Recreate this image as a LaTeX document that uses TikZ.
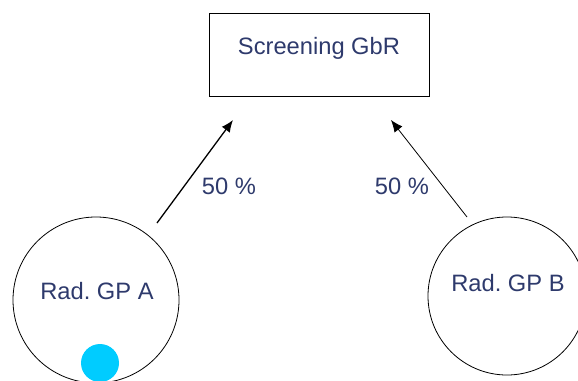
\documentclass[tikz,border=0pt]{standalone}
\usepackage{fontspec}
\setmainfont{Liberation Sans}
\usetikzlibrary{arrows.meta}
\definecolor{txtnavy}{HTML}{2E3A6C}
\definecolor{dotcyan}{HTML}{00CCFF}
\frenchspacing
\begin{document}
\begin{tikzpicture}[x=1pt,y=-1pt,
  lbl/.style={text=txtnavy,font=\fontsize{23.7}{28}\selectfont,inner sep=0pt},
  gpcircle/.style={draw=black,line width=0.8pt,circle,inner sep=0pt},
  conn/.style={-{Latex[length=12pt,width=10pt]},draw=black}]
\useasboundingbox (0,0) rectangle (578,380);
\clip (0,0) rectangle (578,380);
\node[draw=black,line width=0.8pt,minimum width=220pt,minimum height=83pt,inner sep=0pt] (screen) at (319,54.5) {};
\node[lbl] (screentxt) at (319,48.5) {Screening GbR};
\node[gpcircle,minimum size=166pt] (gpa) at (96,300) {};
\node[gpcircle,minimum size=158pt] (gpb) at (507,296) {};
\node[lbl] (gpatxt) at (97,291) {Rad. GP A};
\node[lbl] (gpbtxt) at (508,283) {Rad. GP B};
\node[circle,fill=dotcyan,minimum size=38pt,inner sep=0pt] (dot) at (100,363) {};
\coordinate (a1) at (157,223);
\coordinate (a2) at (233,120);
\coordinate (b1) at (467,217);
\coordinate (b2) at (391,120);
\draw[conn,line width=1.3pt] (a1) -- (a2);
\draw[conn,line width=0.8pt] (b1) -- (b2);
\node[lbl] (pa) at (229,186) {50 \%};
\node[lbl] (pb) at (402,186) {50 \%};
\end{tikzpicture}
\end{document}
